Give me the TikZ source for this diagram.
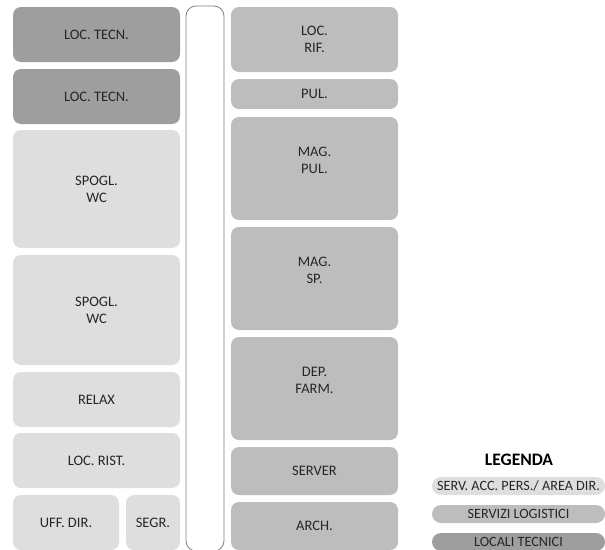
\documentclass[tikz,border=0pt]{standalone}
\usepackage{fontspec}
\setmainfont{Carlito}
\usepackage{tikz}
\usetikzlibrary{positioning}
\definecolor{ltech}{HTML}{9E9E9E}
\definecolor{llog}{HTML}{BEBDBE}
\definecolor{lserv}{HTML}{DEDEDE}
\definecolor{ltext}{HTML}{262626}
\definecolor{lcorr}{HTML}{808080}
\tikzset{
  % room block, fill colour gives the category
  room/.style    = {rectangle, rounded corners=8pt, fill=#1, draw=none, align=center,
                    inner sep=0pt, text=ltext, font=\fontsize{14.5}{17}\selectfont},
  room/.default  = lserv,
  pill/.style    = {rectangle, rounded corners=9pt, fill=#1, minimum width=173pt,
                    minimum height=18pt, inner sep=0pt, text=ltext,
                    font=\fontsize{14.2}{16}\selectfont},
  corr/.style    = {draw=lcorr, line width=0.8pt, rounded corners=10pt},
  legtitle/.style = {font=\bfseries\fontsize{17.5}{20}\selectfont, text=black},
}

\begin{document}
\begin{tikzpicture}[x=1pt, y=-1pt]
\useasboundingbox (0,0) rectangle (605,549);
% left column
\node[room=ltech, minimum width=167pt, minimum height=55pt]  (lt1)   at (96.5,34.5)  {LOC. TECN.};
\node[room=ltech, minimum width=167pt, minimum height=55pt]  (lt2)   at (96.5,96.5)  {LOC. TECN.};
\node[room,       minimum width=167pt, minimum height=118pt] (wc1)   at (96.5,189)   {SPOGL.\\WC};
\node[room,       minimum width=167pt, minimum height=110pt] (wc2)   at (96.5,310)   {SPOGL.\\WC};
\node[room,       minimum width=167pt, minimum height=55pt]  (relax) at (96.5,399.5) {RELAX};
\node[room,       minimum width=167pt, minimum height=55pt]  (rist)  at (96.5,460.5) {LOC. RIST.};
\node[room,       minimum width=106pt, minimum height=55pt]  (uff)   at (66,522.5)   {UFF. DIR.};
\node[room,       minimum width=54pt,  minimum height=55pt]  (segr)  at (153,522.5)  {SEGR.};
% corridor
\draw[corr] (186,6) rectangle (224,551);
% right column
\node[room=llog, minimum width=167pt, minimum height=65pt]  (rif)    at (314.5,39.5)  {LOC.\\RIF.};
\node[room=llog, minimum width=167pt, minimum height=30pt]  (pul)    at (314.5,94)    {PUL.};
\node[room=llog, minimum width=167pt, minimum height=103pt, text depth=16pt] (magpul) at (314.5,168.5) {MAG.\\PUL.};
\node[room=llog, minimum width=167pt, minimum height=103pt, text depth=16pt] (magsp)  at (314.5,278.5) {MAG.\\SP.};
\node[room=llog, minimum width=167pt, minimum height=103pt, text depth=16pt] (farm)   at (314.5,388.5) {DEP.\\FARM.};
\node[room=llog, minimum width=167pt, minimum height=48pt]  (server) at (314.5,471)   {SERVER};
\node[room=llog, minimum width=167pt, minimum height=48pt]  (arch)   at (314.5,526)   {ARCH.};
% legend
\node[legtitle] (leg) at (519,460) {LEGENDA};
\node[pill=lserv] (kserv) at (518.5,486) {SERV. ACC. PERS./ AREA DIR.};
\node[pill=llog]  (klog)  at (518.5,514) {SERVIZI LOGISTICI};
\node[pill=ltech] (ktech) at (518.5,542) {LOCALI TECNICI};
\end{tikzpicture}
\end{document}
